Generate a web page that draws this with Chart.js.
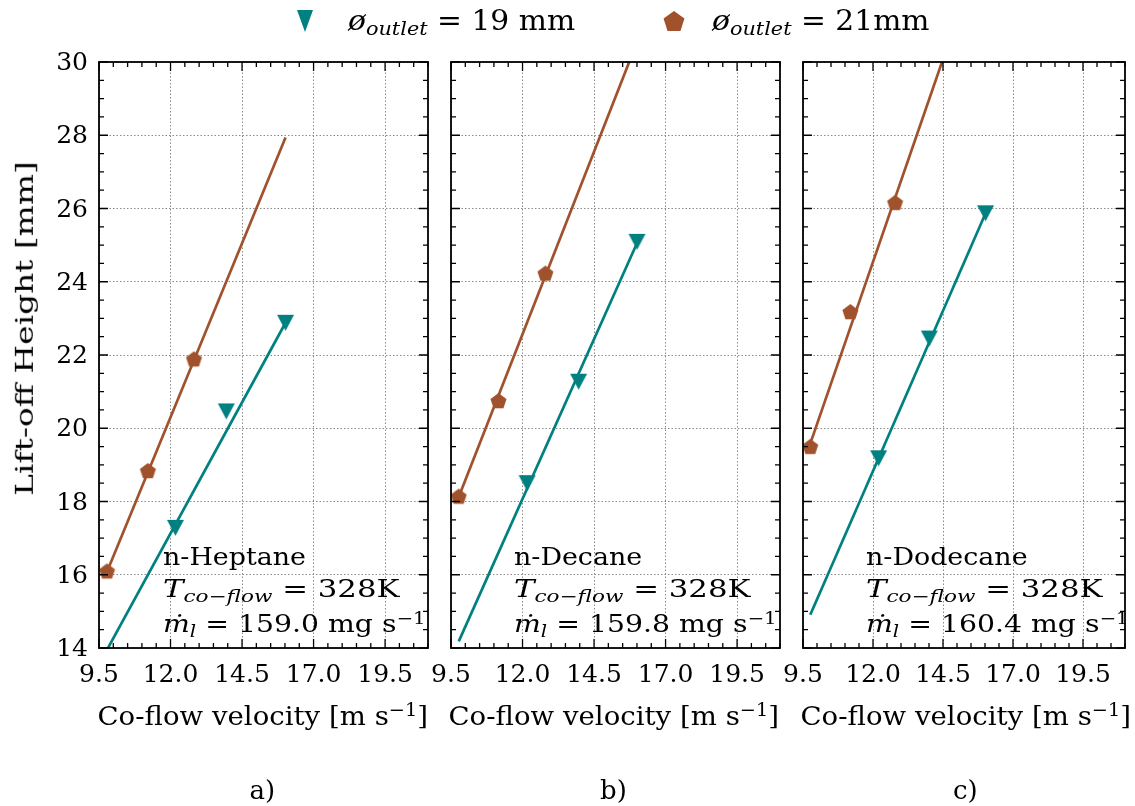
<!DOCTYPE html>
<html>
<head>
<meta charset="utf-8">
<script src="https://cdn.jsdelivr.net/npm/chart.js@4.4.1/dist/chart.umd.min.js"></script>
<style>
  html, body { margin: 0; padding: 0; background: #fff; }
  #fig { position: relative; width: 1135px; height: 806px; overflow: hidden; background: #fff;
         font-family: 'DejaVu Serif', serif; color: #000; }
  #fig canvas.panel { position: absolute; left: 0; top: 0; }
  .txt { position: absolute; white-space: nowrap; line-height: 1; }
  .txt sub, .txt sup { font-size: 0.7em; line-height: 0; }
  .txt sub { vertical-align: -0.28em; }
  .txt sup { vertical-align: 0.5em; }
  .bl { display: inline-block; width: 0; height: 0; vertical-align: baseline; }
  .mk { position: absolute; }
</style>
</head>
<body>
<div id="fig">
  <canvas class="panel" id="p0" width="1135" height="806"></canvas>
  <canvas class="panel" id="p1" width="1135" height="806"></canvas>
  <canvas class="panel" id="p2" width="1135" height="806"></canvas>
</div>
<script>
const FONT = "'DejaVu Serif', serif";
const TEAL = '#008080';
const BROWN = '#a0522d';

// ── Data ─────────────────────────────────────────────────────────────────────

const xTicks = [9.5, 12.0, 14.5, 17.0, 19.5];
const yTicks = [14, 16, 18, 20, 22, 24, 26, 28, 30];
const fuels = ['n-Heptane', 'n-Decane', 'n-Dodecane'];
const massFlow = ['159.0', '159.8', '160.4'];
const coflowT = '328K';
const panelTags = ['a)', 'b)', 'c)'];
const outlets = ['19 mm', '21mm'];

// outlet 19 mm (triangles), one row per panel
const vel19 = [[12.17, 13.95, 16.02], [12.16, 13.96, 16.0], [12.2, 14.01, 16.02]];
const lift19 = [[17.28, 20.46, 22.88], [18.5, 21.27, 25.09], [19.18, 22.45, 25.87]];
// outlet 21 mm (pentagons)
const vel21 = [[9.78, 11.21, 12.82], [9.77, 11.16, 12.8], [9.76, 11.19, 12.79]];
const lift21 = [[16.08, 18.82, 21.87], [18.12, 20.73, 24.21], [19.48, 23.16, 26.14]];
// linear fit lines, end points
const fitX19 = [[9.8, 16.02], [9.77, 16.0], [9.76, 16.02]];
const fitY19 = [[13.98, 22.88], [14.18, 25.05], [14.91, 25.87]];
const fitX21 = [[9.78, 16.02], [9.77, 16.0], [9.76, 16.0]];
const fitY21 = [[16.08, 27.94], [18.12, 30.54], [19.58, 33.4]];

// ── Geometry ────────────────────────────────────────────────────────────────

const W = 1135, H = 806;
const areaLeft = [99, 451, 803];
const areaRight = [428, 780, 1131];
const areaTop = 62, areaBottom = 648;
const X_AXIS_H = 40;

const fig = document.getElementById('fig');

// ── Marker images ────────────────────────────────────────────────────────────

function triangleMarker(w, h, color) {
  const c = document.createElement('canvas');
  c.width = Math.ceil(w) + 2; c.height = Math.ceil(h) + 2;
  const g = c.getContext('2d');
  g.fillStyle = color;
  g.beginPath();
  g.moveTo(1, 1); g.lineTo(1 + w, 1); g.lineTo(1 + w / 2, 1 + h);
  g.closePath(); g.fill();
  return c;
}

function pentagonMarker(r, color) {
  const c = document.createElement('canvas');
  c.width = Math.ceil(2 * r) + 2; c.height = Math.ceil(2 * r) + 2;
  const g = c.getContext('2d');
  g.fillStyle = color;
  g.beginPath();
  for (let k = 0; k < 5; k++) {
    const a = -Math.PI / 2 + k * 2 * Math.PI / 5;
    const px = c.width / 2 + r * Math.cos(a), py = c.height / 2 + r * Math.sin(a);
    k ? g.lineTo(px, py) : g.moveTo(px, py);
  }
  g.closePath(); g.fill();
  return c;
}

const triImg = triangleMarker(17, 16, TEAL);
const pentImg = pentagonMarker(8.4, BROWN);

// ── Frame with inward ticks ──────────────────────────────────────────────────

const frameTicks = {
  id: 'frameTicks',
  afterDraw(chart) {
    const { ctx, chartArea: a, scales: { x, y } } = chart;
    ctx.save();
    ctx.strokeStyle = '#000';
    ctx.lineWidth = 1.3;
    ctx.beginPath();
    for (let v = x.min; v <= x.max + 1e-6; v += 0.5) {
      const px = x.getPixelForValue(v);
      const len = xTicks.some(t => Math.abs(t - v) < 1e-6) ? 9 : 5;
      ctx.moveTo(px, a.bottom); ctx.lineTo(px, a.bottom - len);
      ctx.moveTo(px, a.top); ctx.lineTo(px, a.top + len);
    }
    for (let v = y.min; v <= y.max + 1e-6; v += 0.5) {
      const py = y.getPixelForValue(v);
      const len = yTicks.includes(v) ? 9 : 5;
      ctx.moveTo(a.left, py); ctx.lineTo(a.left + len, py);
      ctx.moveTo(a.right, py); ctx.lineTo(a.right - len, py);
    }
    ctx.stroke();
    ctx.lineWidth = 1.8;
    ctx.strokeRect(a.left, a.top, a.right - a.left, a.bottom - a.top);
    ctx.restore();
  }
};

// ── Panels ──────────────────────────────────────────────────────────────────

const pts = (xs, ys) => xs.map((x, k) => ({ x, y: ys[k] }));

function makePanel(i) {
  const yW = i === 0 ? areaLeft[0] : 40;
  return new Chart(document.getElementById('p' + i), {
    type: 'scatter',
    data: {
      datasets: [
        { data: pts(vel19[i], lift19[i]), pointStyle: triImg, pointRadius: 9,
          backgroundColor: TEAL, borderColor: TEAL, clip: 0 },
        { data: pts(vel21[i], lift21[i]), pointStyle: pentImg, pointRadius: 9,
          backgroundColor: BROWN, borderColor: BROWN, clip: 0 },
        { data: pts(fitX19[i], fitY19[i]), showLine: true, pointRadius: 0,
          borderColor: TEAL, borderWidth: 2.7, clip: 0 },
        { data: pts(fitX21[i], fitY21[i]), showLine: true, pointRadius: 0,
          borderColor: BROWN, borderWidth: 2.7, clip: 0 }
      ]
    },
    options: {
      responsive: false,
      animation: false,
      events: [],
      layout: {
        padding: {
          left: i === 0 ? 0 : areaLeft[i] - yW,
          right: W - areaRight[i],
          top: areaTop,
          bottom: H - areaBottom - X_AXIS_H
        }
      },
      plugins: { legend: { display: false }, tooltip: { enabled: false } },
      scales: {
        x: {
          type: 'linear', min: 9.5, max: 21,
          afterBuildTicks: s => { s.ticks = xTicks.map(v => ({ value: v })); },
          afterFit: s => { s.height = X_AXIS_H; },
          grid: { color: '#8a8a8a', lineWidth: 1, drawTicks: false },
          border: { display: false, dash: [1.5, 2] },
          ticks: {
            color: '#000', padding: 15, autoSkip: false, maxRotation: 0,
            font: { family: FONT, size: 25, lineHeight: 1 },
            callback: v => v.toFixed(1)
          }
        },
        y: {
          type: 'linear', min: 14, max: 30,
          afterBuildTicks: s => { s.ticks = yTicks.map(v => ({ value: v })); },
          afterFit: s => { s.width = yW; },
          grid: { color: '#8a8a8a', lineWidth: 1, drawTicks: false },
          border: { display: false, dash: [1.5, 2] },
          ticks: {
            display: i === 0, color: '#000', padding: 11, labelOffset: 1.5,
            font: { family: FONT, size: 25, lineHeight: 1 }
          }
        }
      }
    },
    plugins: [frameTicks]
  });
}

[0, 1, 2].forEach(makePanel);

// ── Text ────────────────────────────────────────────────────────────────────

function addText(html, size, x, baseline, opts = {}) {
  const el = document.createElement('div');
  el.className = 'txt';
  el.style.fontSize = size + 'px';
  el.innerHTML = html + '<span class="bl"></span>';
  fig.appendChild(el);
  const w = el.offsetWidth;
  const b = el.querySelector('.bl').offsetTop;
  const sx = opts.width ? opts.width / w : (opts.sx || 1);
  const anchor = opts.align === 'center' ? 0.5 : 0;
  el.style.left = (x - anchor * w) + 'px';
  el.style.top = (baseline - b) + 'px';
  el.style.transformOrigin = (anchor * 100) + '% 50%';
  el.style.transform = 'scaleX(' + sx + ')';
  return el;
}

function addVerticalText(html, size, baselineX, cy, length) {
  const el = document.createElement('div');
  el.className = 'txt';
  el.style.fontSize = size + 'px';
  el.innerHTML = html + '<span class="bl"></span>';
  fig.appendChild(el);
  const w = el.offsetWidth, h = el.offsetHeight;
  const b = el.querySelector('.bl').offsetTop;
  const cx = baselineX - (b - h / 2);
  el.style.left = (cx - w / 2) + 'px';
  el.style.top = (cy - h / 2) + 'px';
  el.style.transformOrigin = '50% 50%';
  el.style.transform = 'rotate(-90deg) scaleX(' + (length / w) + ')';
}

function placeMarker(img, cx, cy) {
  img.className = 'mk';
  img.style.left = (cx - img.width / 2) + 'px';
  img.style.top = (cy - img.height / 2) + 'px';
  fig.appendChild(img);
}

// legend
const outletSym = '<i>ø</i><sub><i>outlet</i></sub>';
placeMarker(triangleMarker(16, 22, TEAL), 305, 21);
addText(outletSym + ' = ' + outlets[0], 27, 348, 30, { width: 227 });
placeMarker(pentagonMarker(11, BROWN), 674, 22);
addText(outletSym + ' = ' + outlets[1], 27, 712, 30, { width: 218 });

// axis titles and annotations
addVerticalText('Lift-off Height [mm]', 25, 33, 328, 335);
const xTitle = 'Co-flow velocity [m s<sup>−1</sup>]';
const annLeft = [163, 514, 866];
const titleCenter = [262.5, 613.5, 965.5];
for (let i = 0; i < 3; i++) {
  addText(xTitle, 26, titleCenter[i], 725, { width: 331, align: 'center' });
  addText(fuels[i], 24, annLeft[i], 565, { sx: 1.12 });
  addText('<i>T</i><sub><i>co</i>−<i>flow</i></sub> = ' + coflowT, 24, annLeft[i], 597, { width: 236 });
  addText('<i>ṁ</i><sub><i>l</i></sub> = ' + massFlow[i] + ' mg s<sup>−1</sup>', 24, annLeft[i], 632, { width: 263 });
  addText(panelTags[i], 26, titleCenter[i], 799, { align: 'center' });
}
</script>
</body>
</html>
